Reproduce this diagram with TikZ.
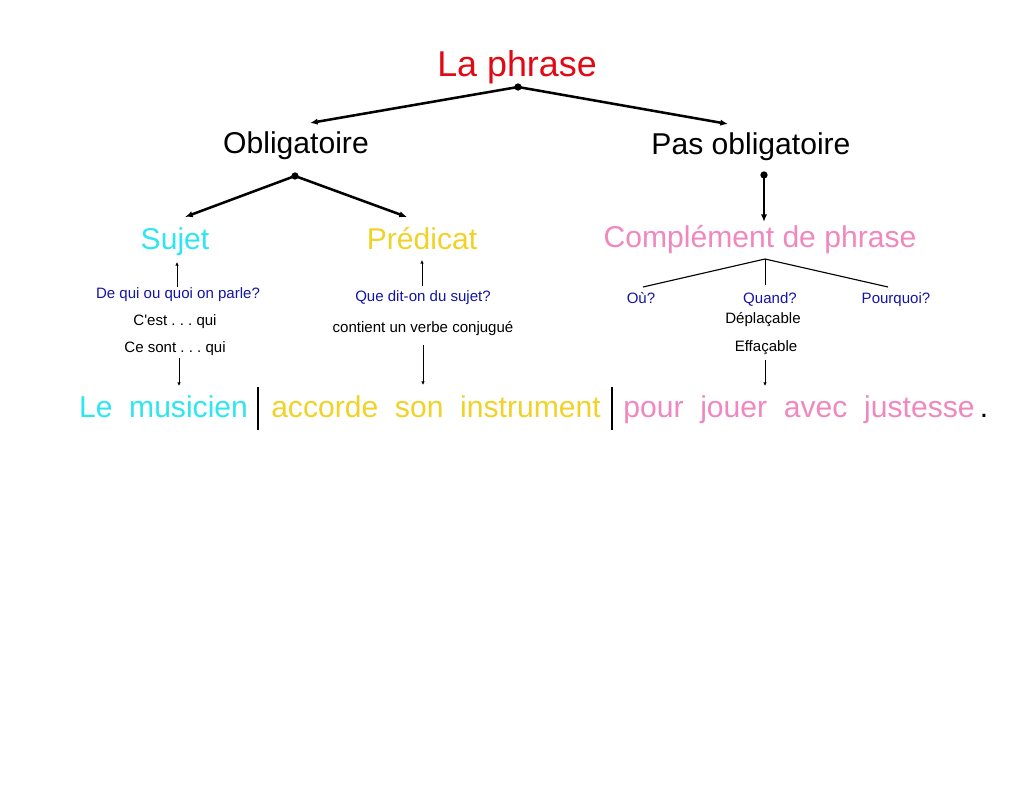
\documentclass[tikz,border=0pt]{standalone}
\usepackage{fontspec}
\setmainfont{Liberation Sans}
\usetikzlibrary{arrows.meta}
\frenchspacing
\definecolor{phrasered}{RGB}{225,10,20}
\definecolor{sujetcyan}{RGB}{45,230,240}
\definecolor{predyellow}{RGB}{240,210,40}
\definecolor{complpink}{RGB}{240,135,190}
\definecolor{questblue}{RGB}{20,20,165}
\tikzset{
	titre/.style={anchor=base, inner sep=0pt, font=\fontsize{25.5}{30}\selectfont},
	niveau/.style={anchor=base, inner sep=0pt, font=\fontsize{21.4}{26}\selectfont},
	petit/.style={anchor=base, inner sep=0pt, font=\fontsize{10.7}{13}\selectfont},
	branche/.style={line width=1.8pt, -{Latex[length=5.5pt,width=4.5pt]}},
	fleche/.style={line width=0.6pt, -{Latex[length=2.5pt,width=2.5pt]}},
	trait/.style={line width=0.8pt},
	barre/.style={line width=2pt},
	point/.style={fill=black}
}

\begin{document}
\begin{tikzpicture}[x=0.025cm, y=-0.025cm]
			%%%%% START %%%%%
			
			\useasboundingbox (0, 0) rectangle (1023, 806);
			
			\node[titre, phrasered] (phrase) at (517, 77) {La phrase};
			\node[niveau] (oblig) at (296, 154) {Obligatoire};
			\node[niveau] (pasoblig) at (751, 155) {Pas obligatoire};
			
			\node[niveau, sujetcyan] (sujet) at (175, 250) {Sujet};
			\node[niveau, predyellow] (predicat) at (422, 250) {Prédicat};
			\node[niveau, complpink] (complement) at (760, 248) {Complément de phrase};
			
			\node[petit, questblue] (dequi) at (178, 299) {De qui ou quoi on parle?};
			\node[petit] (cest) at (175, 325) {C\textquotesingle est . . . qui};
			\node[petit] (cesont) at (175, 352) {Ce sont . . . qui};
			
			\node[petit, questblue] (quedit) at (423, 301) {Que dit-on du sujet?};
			\node[petit] (contient) at (423, 332) {contient un verbe conjugué};
			
			\node[petit, questblue] (ou) at (641, 303) {Où?};
			\node[petit, questblue] (quand) at (770, 303) {Quand?};
			\node[petit, questblue] (pourquoi) at (896, 303) {Pourquoi?};
			\node[petit] (deplacable) at (763, 323) {Déplaçable};
			\node[petit] (effacable) at (766, 351) {Effaçable};
			
			% la phrase du bas
			\node[niveau, sujetcyan] (musicien) at (163.5, 417) {Le\ \ musicien};
			\node[niveau, predyellow] (accorde) at (436, 417) {accorde\ \ son\ \ instrument};
			\node[niveau, complpink] (jouer) at (799, 417) {pour\ \ jouer\ \ avec\ \ justesse};
			\node[niveau] (fin) at (984, 417) {.};
			
			\coordinate (barreA) at (258, 387);
			\coordinate (barreAbas) at (258, 430);
			\coordinate (barreB) at (612, 387);
			\coordinate (barreBbas) at (612, 430);
			\draw[barre] (barreA) -- (barreAbas);
			\draw[barre] (barreB) -- (barreBbas);
			
			% branches
			\coordinate (pphrase) at (518, 87);
			\coordinate (poblig) at (295, 176);
			\coordinate (ppasoblig) at (764, 175);
			\coordinate (vers-oblig) at (310, 123);
			\coordinate (vers-pasoblig) at (728, 124);
			\coordinate (vers-sujet) at (185, 217);
			\coordinate (vers-predicat) at (407, 217);
			\coordinate (vers-compl) at (764, 222);
			
			\draw[branche] (pphrase) -- (vers-oblig);
			\draw[branche] (pphrase) -- (vers-pasoblig);
			\draw[branche] (poblig) -- (vers-sujet);
			\draw[branche] (poblig) -- (vers-predicat);
			\draw[branche] (ppasoblig) -- (vers-compl);
			\fill[point] (pphrase) circle[radius=2.6pt];
			\fill[point] (poblig) circle[radius=2.6pt];
			\fill[point] (ppasoblig) circle[radius=2.6pt];
			
			% petites fleches
			\coordinate (s1) at (177, 287);
			\coordinate (s2) at (177, 262);
			\coordinate (s3) at (179, 386);
			\coordinate (s4) at (179, 358);
			\draw[fleche] (s1) -- (s2);
			\draw[fleche, {Latex[length=2.5pt,width=2.5pt]}-] (s3) -- (s4);
			
			\coordinate (p1) at (422, 286);
			\coordinate (p2) at (422, 260);
			\coordinate (p3) at (423, 385);
			\coordinate (p4) at (423, 345);
			\draw[fleche] (p1) -- (p2);
			\draw[fleche, {Latex[length=2.5pt,width=2.5pt]}-] (p3) -- (p4);
			
			\coordinate (csommet) at (765, 259);
			\coordinate (c-ou) at (643, 287);
			\coordinate (c-quand) at (765, 285);
			\coordinate (c-pourquoi) at (888, 287);
			\coordinate (c3) at (765, 386);
			\coordinate (c4) at (765, 360);
			\draw[trait] (c-ou) -- (csommet) -- (c-pourquoi);
			\draw[fleche, -] (csommet) -- (c-quand);
			\draw[fleche, {Latex[length=2.5pt,width=2.5pt]}-] (c3) -- (c4);
			
			%%%%% END %%%%%
		\end{tikzpicture}
\end{document}
